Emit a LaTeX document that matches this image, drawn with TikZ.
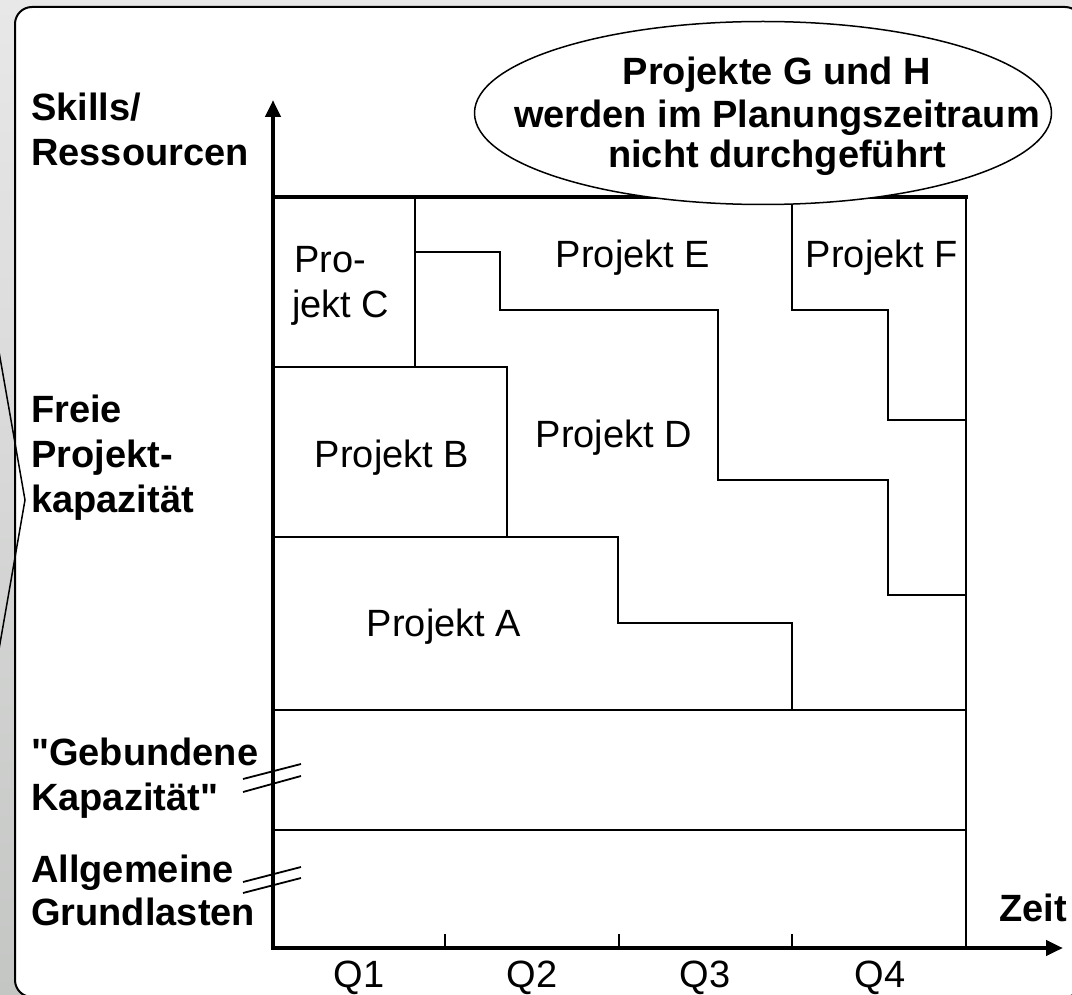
\documentclass[tikz,border=0pt]{standalone}
\usepackage{fontspec}
\setmainfont{Liberation Sans}[Ligatures=TeXOff]
\usetikzlibrary{arrows.meta,shapes.geometric}
\definecolor{bgtop}{HTML}{E8E8E8}
\definecolor{bgbot}{HTML}{C4C6C4}
\begin{document}
\begin{tikzpicture}[x=1pt,y=-1pt,
  lbl/.style={font=\bfseries\fontsize{38}{45}\selectfont, inner sep=0pt, anchor=base west},
  notetxt/.style={font=\bfseries\fontsize{38}{45}\selectfont, inner sep=0pt, anchor=base},
  proj/.style={font=\fontsize{38}{45}\selectfont, inner sep=0pt, anchor=base},
  gridline/.style={line width=1.8pt},
  axisline/.style={line width=4.6pt},
  breakmark/.style={line width=1.8pt},
]
\useasboundingbox (0,0) rectangle (1072,995);
\clip (0,0) rectangle (1072,995);

% backdrop and white panel
\shade[top color=bgtop, bottom color=bgbot] (0,0) rectangle (1072,995);
\draw[fill=white, line width=2pt, rounded corners=17pt] (15,7) rectangle (1082,997);

% bracket edge on the left
\coordinate (brA) at (-2,346);
\coordinate (brB) at (25,500);
\coordinate (brC) at (-2,655);
\draw[line width=1.5pt] (brA) -- (brB) -- (brC);

% axes
\coordinate (O) at (273,948);
\coordinate (Ytip) at (273,100);
\coordinate (Xtip) at (1063,948);

% quarter ticks
\foreach \x in {445,619,792} \draw[gridline] (\x,948) -- (\x,934);

% capacity bands and project areas
\draw[gridline] (966,197) -- (966,948);
\draw[gridline] (273,830) -- (966,830);
\draw[gridline] (273,710) -- (966,710);
\draw[gridline] (273,537) -- (618,537) -- (618,623) -- (792,623) -- (792,710);
\draw[gridline] (273,367) -- (507,367) -- (507,537);
\draw[gridline] (415,197) -- (415,367);
\draw[gridline] (415,252) -- (500,252) -- (500,310) -- (718,310) -- (718,480)
   -- (888,480) -- (888,595) -- (966,595);
\draw[gridline] (792,197) -- (792,310) -- (888,310) -- (888,420) -- (966,420);

% capacity limit
\draw[axisline] (271,197) -- (968,197);

\draw[axisline, {Triangle[length=17pt,width=15pt]}-{Triangle[length=17pt,width=15pt]}]
  (Ytip) -- (O) -- (Xtip);

% break marks
\draw[breakmark] (243,779) -- (301,764);
\draw[breakmark] (243,792) -- (301,776);
\draw[breakmark] (243,882) -- (301,867);
\draw[breakmark] (243,893) -- (301,878);

% note ellipse
\node[ellipse, draw, fill=white, line width=1.5pt, minimum width=577pt,
      minimum height=183pt, inner sep=0pt] (note) at (763,113) {};
\node[notetxt] (g1) at (777,85) {Projekte G und H};
\node[notetxt] (g2) at (777,128) {werden im Planungszeitraum};
\node[notetxt] (g3) at (777,168) {nicht durchgeführt};

% axis labels
\node[lbl] (sk1) at (31,121) {Skills/};
\node[lbl] (sk2) at (31,166) {Ressourcen};
\node[lbl] (fr1) at (31,422) {Freie};
\node[lbl] (fr2) at (31,467) {Projekt-};
\node[lbl] (fr3) at (31,512) {kapazität};
\node[lbl] (gb1) at (31,765) {"Gebundene};
\node[lbl] (gb2) at (31,810) {Kapazität"};
\node[lbl] (al1) at (31,882) {Allgemeine};
\node[lbl] (al2) at (31,925) {Grundlasten};
\node[lbl] (zeit) at (999,921) {Zeit};

% project names
\node[proj] (pa) at (444,636) {Projekt A};
\node[proj] (pb) at (392,467) {Projekt B};
\node[proj] (pd) at (614,447) {Projekt D};
\node[proj] (pe) at (633,268) {Projekt E};
\node[proj] (pf) at (882,268) {Projekt F};
\node[proj, anchor=base west] (pc1) at (294,273) {Pro-};
\node[proj, anchor=base west] (pc2) at (292,318) {jekt C};

% quarters
\node[proj] (q1) at (359,987) {Q1};
\node[proj] (q2) at (532,987) {Q2};
\node[proj] (q3) at (705,987) {Q3};
\node[proj] (q4) at (880,987) {Q4};
\end{tikzpicture}
\end{document}
